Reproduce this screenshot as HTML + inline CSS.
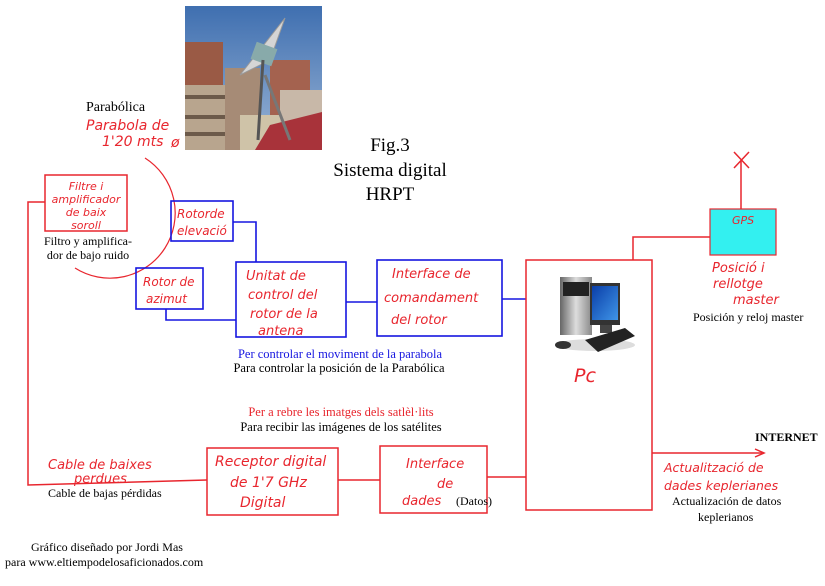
<!DOCTYPE html>
<html><head><meta charset="utf-8"><style>
html,body{margin:0;padding:0;background:#fff;}
svg{display:block;}
.h{font-family:"DejaVu Sans","Liberation Sans",sans-serif;fill:#e8262e;font-style:italic;}
.t{font-family:"Liberation Serif",serif;fill:#000;}
</style></head><body>
<svg width="825" height="586" viewBox="0 0 825 586" xmlns="http://www.w3.org/2000/svg">
<defs>
<linearGradient id="sky" x1="0" y1="0" x2="0" y2="1"><stop offset="0" stop-color="#3f6fb0"/><stop offset="1" stop-color="#9bb5d6"/></linearGradient>
<linearGradient id="tw" x1="0" y1="0" x2="1" y2="0"><stop offset="0" stop-color="#666"/><stop offset="0.5" stop-color="#ddd"/><stop offset="1" stop-color="#888"/></linearGradient>
<linearGradient id="scr" x1="0" y1="0" x2="1" y2="1"><stop offset="0" stop-color="#0a3ea8"/><stop offset="1" stop-color="#3f95e8"/></linearGradient>
</defs>
<g>
<rect x="185" y="6" width="137" height="144" fill="url(#sky)"/>
<rect x="185" y="42" width="38" height="108" fill="#9a5a45"/>
<rect x="185" y="85" width="40" height="65" fill="#b8a58e"/>
<rect x="185" y="95" width="40" height="4" fill="#6c5a4a"/>
<rect x="185" y="115" width="40" height="4" fill="#6c5a4a"/>
<rect x="185" y="132" width="40" height="4" fill="#6c5a4a"/>
<rect x="225" y="68" width="35" height="82" fill="#a68b76"/>
<rect x="270" y="60" width="40" height="90" fill="#a4624f"/>
<rect x="280" y="90" width="42" height="40" fill="#c8b8a8"/>
<rect x="240" y="115" width="40" height="35" fill="#cfc3a8"/>
<path d="M255 150 L270 125 L322 112 L322 150 Z" fill="#a8333a"/>
<path d="M240 75 L285 18 L270 60 Z" fill="#d5d5d5" stroke="#999"/>
<rect x="253" y="45" width="22" height="18" fill="#8aa" transform="rotate(20 264 54)"/>
<line x1="263" y1="60" x2="258" y2="140" stroke="#555" stroke-width="3"/>
<line x1="265" y1="75" x2="290" y2="140" stroke="#777" stroke-width="3"/>
</g>
<text x="390" y="151" class="t" font-size="19" text-anchor="middle">Fig.3</text>
<text x="390" y="176" class="t" font-size="19" text-anchor="middle">Sistema digital</text>
<text x="390" y="200" class="t" font-size="19" text-anchor="middle">HRPT</text>
<text x="86" y="111" class="t" font-size="14">Parabólica</text>
<text x="86" y="130" class="h" font-size="14">Parabola de</text>
<text x="102" y="146" class="h" font-size="14">1'20 mts</text>
<text x="171" y="147" class="h" font-size="14">ø</text>
<path d="M145 158 A62 62 0 0 1 75 268" fill="none" stroke="#e8262e" stroke-width="1.2"/>
<rect x="45" y="175" width="82" height="56" fill="none" stroke="#e8262e" stroke-width="1.5"/>
<text x="86" y="190" class="h" font-size="11" text-anchor="middle">Filtre i</text>
<text x="86" y="203" class="h" font-size="11" text-anchor="middle">amplificador</text>
<text x="86" y="216" class="h" font-size="11" text-anchor="middle">de baix</text>
<text x="86" y="229" class="h" font-size="11" text-anchor="middle">soroll</text>
<text x="88" y="245" class="t" font-size="12" text-anchor="middle">Filtro y amplifica-</text>
<text x="88" y="259" class="t" font-size="12" text-anchor="middle">dor de bajo ruido</text>
<path d="M45 202 L28 202 L28 485 L207 480" fill="none" stroke="#e8262e" stroke-width="1.5"/>
<text x="48" y="469" class="h" font-size="13">Cable de baixes</text>
<text x="74" y="483" class="h" font-size="13">perdues</text>
<text x="48" y="497" class="t" font-size="12">Cable de bajas pérdidas</text>
<g fill="none" stroke="#1616e0" stroke-width="1.6">
<rect x="171" y="201" width="62" height="40"/>
<rect x="136" y="268" width="67" height="41"/>
<rect x="236" y="262" width="110" height="75"/>
<rect x="377" y="260" width="125" height="76"/>
<path d="M233 222 L256 222 L256 262"/>
<path d="M166 309 L166 320 L236 320"/>
<path d="M346 302 L377 302"/>
<path d="M502 299 L526 299"/>
</g>
<text x="177" y="218" class="h" font-size="12">Rotorde</text>
<text x="177" y="235" class="h" font-size="12">elevació</text>
<text x="143" y="286" class="h" font-size="12">Rotor de</text>
<text x="146" y="303" class="h" font-size="12">azimut</text>
<text x="246" y="280" class="h" font-size="13">Unitat de</text>
<text x="248" y="299" class="h" font-size="13">control del</text>
<text x="250" y="318" class="h" font-size="13">rotor de la</text>
<text x="258" y="335" class="h" font-size="13">antena</text>
<text x="392" y="278" class="h" font-size="13">Interface de</text>
<text x="384" y="302" class="h" font-size="13">comandament</text>
<text x="391" y="324" class="h" font-size="13">del rotor</text>
<text x="340" y="358" class="t" font-size="12.5" style="fill:#1616e0" text-anchor="middle">Per controlar el moviment de la parabola</text>
<text x="339" y="372" class="t" font-size="12.5" text-anchor="middle">Para controlar la posición de la Parabólica</text>
<text x="341" y="416" class="t" font-size="12.5" style="fill:#e8262e" text-anchor="middle">Per a rebre les imatges dels satlèl·lits</text>
<text x="341" y="431" class="t" font-size="12.5" text-anchor="middle">Para recibir las imágenes de los satélites</text>
<g fill="none" stroke="#e8262e" stroke-width="1.5">
<rect x="207" y="448" width="131" height="67"/>
<rect x="380" y="446" width="107" height="67"/>
<path d="M338 480 L380 480"/>
<path d="M487 477 L526 477"/>
<rect x="526" y="260" width="126" height="250"/>
<path d="M633 260 L633 237 L710 237"/>
<path d="M652 453 L763 453"/>
<path d="M755 449 L764 453 L755 457"/>
<path d="M741 209 L741 160 M734 152 L749 168 M749 152 L734 168"/>
</g>
<text x="215" y="466" class="h" font-size="14">Receptor digital</text>
<text x="230" y="487" class="h" font-size="14">de 1'7 GHz</text>
<text x="240" y="507" class="h" font-size="14">Digital</text>
<text x="406" y="468" class="h" font-size="13">Interface</text>
<text x="437" y="488" class="h" font-size="13">de</text>
<text x="402" y="505" class="h" font-size="13">dades</text>
<text x="456" y="505" class="t" font-size="12">(Datos)</text>
<g>
<ellipse cx="595" cy="345" rx="40" ry="6" fill="#ddd"/>
<rect x="560" y="277" width="32" height="58" fill="url(#tw)"/>
<rect x="563" y="282" width="26" height="14" fill="#222"/>
<rect x="590" y="283" width="30" height="42" fill="#333"/>
<rect x="592" y="286" width="26" height="34" fill="url(#scr)"/>
<rect x="600" y="325" width="12" height="8" fill="#444"/>
<path d="M585 340 L625 328 L635 336 L598 352 Z" fill="#222"/>
<ellipse cx="563" cy="345" rx="8" ry="4" fill="#333"/>
</g>
<text x="574" y="382" class="h" font-size="19">Pc</text>
<rect x="710" y="209" width="66" height="46" fill="#33f0f0" stroke="#e8262e" stroke-width="1.2"/>
<text x="732" y="224" class="h" font-size="11">GPS</text>
<text x="712" y="272" class="h" font-size="13">Posició i</text>
<text x="713" y="288" class="h" font-size="13">rellotge</text>
<text x="733" y="304" class="h" font-size="13">master</text>
<text x="693" y="321" class="t" font-size="12">Posición y reloj master</text>
<text x="755" y="441" class="t" font-size="12" font-weight="bold">INTERNET</text>
<text x="664" y="472" class="h" font-size="12.5">Actualització de</text>
<text x="664" y="490" class="h" font-size="12.5">dades keplerianes</text>
<text x="672" y="505" class="t" font-size="12">Actualización de datos</text>
<text x="698" y="521" class="t" font-size="12">keplerianos</text>
<text x="31" y="551" class="t" font-size="12">Gráfico diseñado por Jordi Mas</text>
<text x="5" y="566" class="t" font-size="12">para  www.eltiempodelosaficionados.com</text>
</svg>
</body></html>
